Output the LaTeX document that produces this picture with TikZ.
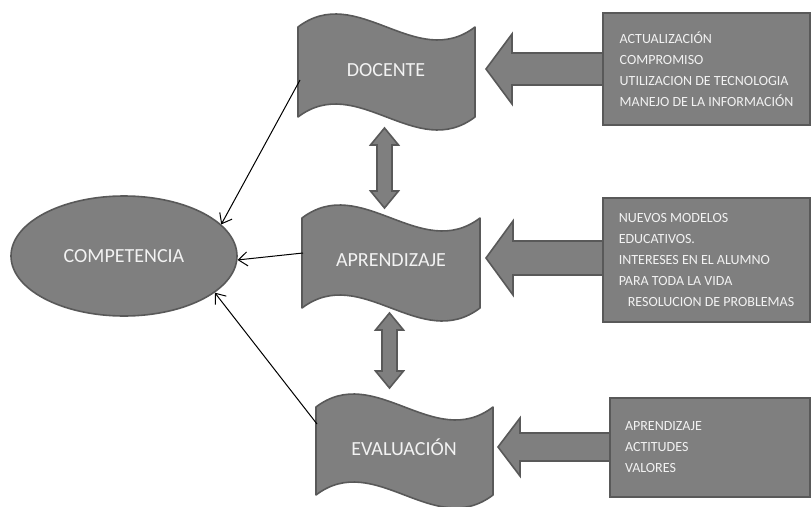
\documentclass[tikz,border=0pt]{standalone}
\usepackage{fontspec}
\setmainfont{Carlito}
\usetikzlibrary{shapes.geometric,arrows.meta}
\definecolor{shapefill}{HTML}{7F7F7F}
\definecolor{shapeline}{HTML}{595959}
\definecolor{shapetext}{HTML}{F2F2F2}
\tikzset{
  wavebox/.style={fill=shapefill, draw=shapeline, line width=1.6pt, line join=round},
  blockarrow/.style={fill=shapefill, draw=shapeline, line width=1.6pt},
  bigtext/.style={text=shapetext, font=\fontsize{20}{24}\selectfont},
  infobox/.style={rectangle, fill=shapefill, draw=shapeline, line width=1.6pt, text=shapetext,
    align=left, font=\fontsize{14}{21}\selectfont},
  thinarrow/.style={-{Straight Barb[length=9pt,width=14pt]}, line width=1pt, black}
}
% wave (L,T,R,B)
\def\wave(#1,#2,#3,#4){\draw[wavebox] (#1,#2) .. controls ({#1+(#3-#1)/3},{#2-45}) and ({#1+2*(#3-#1)/3},{#2+45}) .. (#3,#2) -- (#3,#4) .. controls ({#1+2*(#3-#1)/3},{#4+45}) and ({#1+(#3-#1)/3},{#4-45}) .. (#1,#4) -- cycle;}
% left block arrow (tip x, y, head base x, end x, head half, shaft half)
\def\leftblock(#1,#2,#3,#4,#5,#6){\draw[blockarrow] (#1,#2) -- (#3,{#2-#5}) -- (#3,{#2-#6}) -- (#4,{#2-#6}) -- (#4,{#2+#6}) -- (#3,{#2+#6}) -- (#3,{#2+#5}) -- cycle;}
% up-down block arrow (x, top tip, bottom tip)
\def\updown(#1,#2,#3){\draw[blockarrow] (#1,#2) -- ({#1+14},{#2+17}) -- ({#1+7.5},{#2+17}) -- ({#1+7.5},{#3-17}) -- ({#1+14},{#3-17}) -- (#1,#3) -- ({#1-14},{#3-17}) -- ({#1-7.5},{#3-17}) -- ({#1-7.5},{#2+17}) -- ({#1-14},{#2+17}) -- cycle;}

\begin{document}
\begin{tikzpicture}[x=1pt,y=-1pt]
	%%%%% START %%%%%
	\useasboundingbox (0,0) rectangle (811,506);
	
	\node[ellipse, fill=shapefill, draw=shapeline, line width=1.6pt, minimum width=226pt, minimum height=120pt, bigtext] (comp) at (124,256) {COMPETENCIA};
	
	\wave(298,27,475,117);
	\node[bigtext] (docente) at (386,70) {DOCENTE};
	\wave(302,218,480,308);
	\node[bigtext] (aprendizaje) at (391,260) {APRENDIZAJE};
	\wave(316,407,493,495);
	\node[bigtext] (evaluacion) at (404,447) {EVALUACIÓN};
	
	\updown(384.5,128,208);
	\updown(389.5,313,388);
	
	\leftblock(486,69,512,605,35,16);
	\leftblock(486,258,513,605,37,17);
	\leftblock(498,447,520,612,29,14);
	
	\node[infobox, minimum width=207pt, minimum height=112pt] (box1) at (706.5,69) {ACTUALIZACIÓN\\COMPROMISO\\UTILIZACION DE TECNOLOGIA\\MANEJO DE LA INFORMACIÓN};
	\node[infobox, minimum width=207pt, minimum height=124pt] (box2) at (706.5,260) {NUEVOS MODELOS\\EDUCATIVOS.\\INTERESES EN EL ALUMNO\\PARA TODA LA VIDA\\\hspace*{9pt}RESOLUCION DE PROBLEMAS};
	\node[infobox, minimum width=200pt, minimum height=99pt, inner xsep=15pt, text width=170pt] (box3) at (710,447.5) {APRENDIZAJE\\ACTITUDES\\VALORES};
	
	\coordinate (docW) at (300,80);
	\coordinate (aprW) at (303,253);
	\coordinate (evaW) at (317,424);
	\draw[thinarrow] (docW) -- (comp.18);
	\draw[thinarrow] (aprW) -- (comp.-2);
	\draw[thinarrow] (evaW) -- (comp.-22);
	%%%%% END %%%%%
\end{tikzpicture}
\end{document}
